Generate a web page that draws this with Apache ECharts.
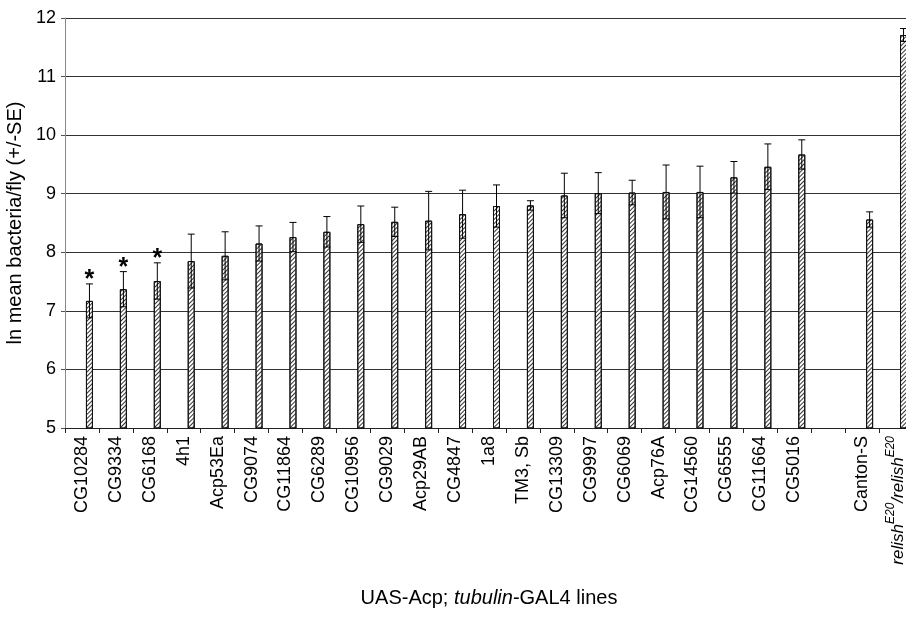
<!DOCTYPE html>
<html>
<head>
<meta charset="utf-8">
<script src="https://cdn.jsdelivr.net/npm/echarts@6/dist/echarts.min.js"></script>
<style>
  html, body { margin: 0; padding: 0; background: #fff; }
  #chart { width: 906px; height: 619px; }
</style>
</head>
<body>
<div id="chart"></div>
<script>
// fly lines, in plotted order (blank slot before the controls)
const lines = ['CG10284', 'CG9334', 'CG6168', '4h1', 'Acp53Ea', 'CG9074', 'CG11864', 'CG6289',
  'CG10956', 'CG9029', 'Acp29AB', 'CG4847', '1a8', 'TM3, Sb', 'CG13309', 'CG9997', 'CG6069',
  'Acp76A', 'CG14560', 'CG6555', 'CG11664', 'CG5016', '', 'Canton-S', 'relish']
const means = [7.17, 7.37, 7.51, 7.85, 7.94, 8.15, 8.26, 8.35,
  8.48, 8.52, 8.54, 8.65, 8.79, 8.80, 8.97, 9.01, 9.02,
  9.03, 9.03, 9.28, 9.46, 9.67, null, 8.56, 11.71]
const ses = [0.29, 0.30, 0.31, 0.46, 0.41, 0.30, 0.25, 0.26,
  0.31, 0.25, 0.50, 0.41, 0.36, 0.08, 0.38, 0.35, 0.21,
  0.46, 0.44, 0.27, 0.39, 0.25, null, 0.13, 0.11]
const starred = ['CG10284', 'CG9334', 'CG6168']

const BAR_W = 7
const SHIFT = 7.5   // Excel-style offset of bar from category centre
const FONT = 'Liberation Sans, Arial, sans-serif'

const chart = echarts.init(document.getElementById('chart'))

const errData = means.map((m, i) => m == null ? null : [i, m, ses[i]]).filter(Boolean)

chart.setOption({
  animation: false,
  backgroundColor: '#fff',
  textStyle: { fontFamily: FONT },
  // plot runs past the right edge of the page, like the cropped original
  grid: { left: 65, top: 18, bottom: 191, width: 848, outerBoundsMode: 'none', containLabel: false },
  xAxis: {
    type: 'category', data: lines,
    name: '{a|UAS-Acp; }{i|tubulin}{a|-GAL4 lines}',
    nameLocation: 'middle', nameGap: 160,
    nameTextStyle: { rich: {
      a: { fontSize: 20, color: '#000', fontFamily: FONT },
      i: { fontSize: 20, color: '#000', fontStyle: 'italic', fontFamily: FONT },
    }},
    axisLine: { lineStyle: { color: '#222', width: 1 } },
    axisTick: { show: true, interval: 0, length: 5, lineStyle: { color: '#222' } },
    axisLabel: {
      interval: 0, rotate: 90, margin: 8, color: '#000', fontSize: 18,
      formatter: v => v === 'relish' ? '{i|relish}{s|E20}{i|/relish}{s|E20}' : v,
      rich: {
        i: { fontSize: 17, fontStyle: 'italic', color: '#000', verticalAlign: 'bottom', lineHeight: 22 },
        s: { fontSize: 12, fontStyle: 'italic', color: '#000', verticalAlign: 'top', lineHeight: 22 },
      },
    },
  },
  yAxis: {
    type: 'value', min: 5, max: 12, interval: 1,
    name: 'ln mean bacteria/fly (+/-SE)', nameLocation: 'middle', nameGap: 36,
    nameTextStyle: { fontSize: 20, color: '#000' },
    axisLine: { show: true, lineStyle: { color: '#888' } },
    axisTick: { show: true, length: 4, lineStyle: { color: '#555' } },
    axisLabel: { color: '#000', fontSize: 18, margin: 9 },
    splitLine: { lineStyle: { color: '#333', width: 1 } },
  },
  series: [
    { name: 'pad', type: 'bar', data: lines.map(() => '-'), barWidth: BAR_W, barGap: '114%' },
    {
      name: 'mean', type: 'bar', data: means.map(m => m == null ? '-' : m),
      barWidth: BAR_W, barGap: '114%',
      itemStyle: {
        color: '#fff', borderColor: '#111', borderWidth: 1,
        decal: { symbol: 'rect', symbolSize: 1, dashArrayX: [[1, 0]], dashArrayY: [1, 2],
          rotation: -Math.PI / 4, color: '#333' },
      },
    },
    {
      name: 'se', type: 'custom', data: errData, z: 5,
      renderItem: (params, api) => {
        const i = api.value(0), m = api.value(1), se = api.value(2)
        const hi = api.coord([i, m + se]), lo = api.coord([i, m - se])
        const x = hi[0] + SHIFT
        const st = { stroke: '#000', lineWidth: 1 }
        const kids = [
          { type: 'line', shape: { x1: x, y1: hi[1], x2: x, y2: lo[1] }, style: st },
          { type: 'line', shape: { x1: x - 3.5, y1: hi[1], x2: x + 3.5, y2: hi[1] }, style: st },
          { type: 'line', shape: { x1: x - 3.5, y1: lo[1], x2: x + 3.5, y2: lo[1] }, style: st },
        ]
        if (starred.includes(lines[i])) {
          kids.push({ type: 'text', x: x, y: hi[1] - 4,
            style: { text: '*', fill: '#000', fontSize: 25, fontWeight: 'bold',
              fontFamily: FONT, align: 'center', verticalAlign: 'middle' } })
        }
        return { type: 'group', children: kids }
      },
    },
  ],
})
</script>
</body>
</html>
